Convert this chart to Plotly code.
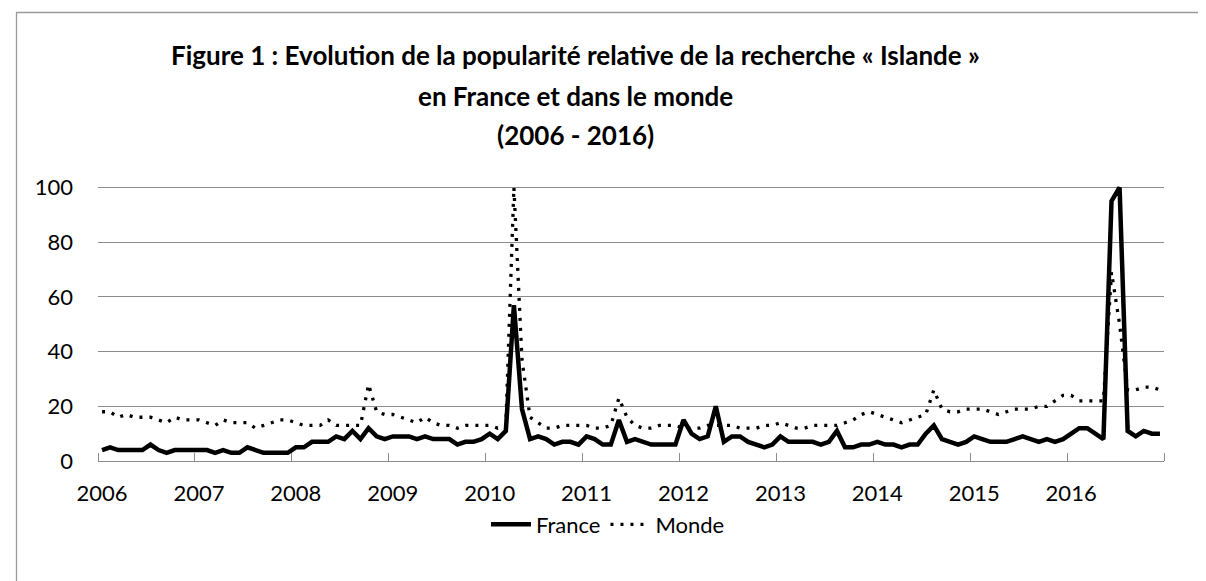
import plotly.graph_objects as go

# ---------------- data ----------------
years = list(range(2006, 2017))
months = [f"{y}-{m:02d}" for y in years for m in range(1, 13)]

france = [
    4, 5, 4, 4, 4, 4, 6, 4, 3, 4, 4, 4,        # 2006
    4, 4, 3, 4, 3, 3, 5, 4, 3, 3, 3, 3,        # 2007
    5, 5, 7, 7, 7, 9, 8, 11, 8, 12, 9, 8,      # 2008
    9, 9, 9, 8, 9, 8, 8, 8, 6, 7, 7, 8,        # 2009
    10, 8, 11, 57, 19, 8, 9, 8, 6, 7, 7, 6,    # 2010
    9, 8, 6, 6, 15, 7, 8, 7, 6, 6, 6, 6,       # 2011
    15, 10, 8, 9, 20, 7, 9, 9, 7, 6, 5, 6,     # 2012
    9, 7, 7, 7, 7, 6, 7, 11, 5, 5, 6, 6,       # 2013
    7, 6, 6, 5, 6, 6, 10, 13, 8, 7, 6, 7,      # 2014
    9, 8, 7, 7, 7, 8, 9, 8, 7, 8, 7, 8,        # 2015
    10, 12, 12, 10, 8, 95, 100, 11, 9, 11, 10, 10,  # 2016
]

monde = [
    18, 18, 16, 17, 16, 16, 16, 15, 14, 16, 15, 15,   # 2006
    15, 14, 13, 15, 14, 14, 14, 12, 13, 14, 15, 15,   # 2007
    14, 13, 13, 13, 15, 13, 13, 13, 13, 28, 18, 17,   # 2008
    17, 16, 15, 14, 16, 14, 13, 13, 12, 13, 13, 13,   # 2009
    13, 12, 13, 100, 37, 16, 14, 12, 12, 13, 13, 13,  # 2010
    13, 12, 12, 13, 23, 16, 13, 12, 12, 13, 13, 13,   # 2011
    12, 12, 12, 13, 13, 13, 13, 12, 12, 12, 13, 13,   # 2012
    14, 13, 12, 12, 13, 13, 13, 13, 14, 15, 17, 18,   # 2013
    17, 16, 15, 14, 15, 16, 17, 26, 19, 18, 18, 19,   # 2014
    19, 19, 18, 17, 18, 19, 19, 19, 20, 20, 22, 24,   # 2015
    24, 22, 22, 22, 22, 69, 50, 26, 26, 27, 27, 26,   # 2016
]

series_names = ["France", "Monde"]
title_lines = [
    "Figure 1 : Evolution de la popularité relative de la recherche « Islande »",
    "en France et dans le monde",
    "(2006 - 2016)",
]

# ---------------- layout helpers ----------------
W, H = 1206, 581
PL, PR = 90, 1156          # plot area left / right (px)
PT, PB = 173.5, 453.3      # plot area top / bottom (px)
YMAX = 102

x = list(range(len(months)))
tickvals = [i for i, m in enumerate(months) if m.endswith("-01")]
ticktext = [m[:4] for m in months if m.endswith("-01")]
boundaries = [i - 0.5 for i in tickvals] + [len(months) - 0.5]

def px_x(X):
    return (X - PL) / (PR - PL)

def px_y(Y):
    return (PB - Y) / (PB - PT)

GRID = "#8c8c8c"
FONT = "Lato"

fig = go.Figure()
fig.add_trace(go.Scatter(
    x=x, y=france, name=series_names[0], mode="lines",
    line=dict(color="black", width=4.5),
))
fig.add_trace(go.Scatter(
    x=x, y=monde, name=series_names[1], mode="lines",
    line=dict(color="black", width=3.3, dash="3px,7px"),
))

title_centers = [46, 87, 126]
annotations = [
    dict(text=t, xref="paper", yref="paper", x=px_x(567), y=px_y(cy),
         xanchor="center", yanchor="middle", showarrow=False,
         font=dict(family=FONT, size=26, weight="bold", color="black"))
    for t, cy in zip(title_lines, title_centers)
]

fig.update_layout(
    width=W, height=H,
    margin=dict(l=PL, r=W - PR, t=PT, b=H - PB, pad=0),
    paper_bgcolor="white", plot_bgcolor="white",
    font=dict(family=FONT, color="black", size=22),
    annotations=annotations,
    showlegend=True,
    legend=dict(
        orientation="h", x=px_x(600), xanchor="center",
        y=px_y(517), yanchor="middle",
        font=dict(size=22, family=FONT), bgcolor="rgba(0,0,0,0)",
        itemwidth=40,
    ),
    xaxis=dict(
        range=[-0.5, len(months) - 0.5],
        showgrid=False, zeroline=False,
        showline=True, linecolor=GRID, linewidth=1.3,
        tickmode="array", tickvals=tickvals, ticktext=ticktext,
        ticks="", ticklabelstandoff=12,
        tickfont=dict(size=22, family=FONT, color="black"),
        minor=dict(tickmode="array", tickvals=boundaries, ticks="inside",
                   ticklen=8, tickcolor=GRID, tickwidth=1.3, showgrid=False),
        fixedrange=True,
    ),
    yaxis=dict(
        range=[0, YMAX],
        tickmode="array", tickvals=[0, 20, 40, 60, 80, 100],
        showgrid=True, gridcolor=GRID, gridwidth=1.3,
        zeroline=False, showline=False, ticks="",
        ticklabelstandoff=24,
        tickfont=dict(size=22, family=FONT, color="black"),
        fixedrange=True,
    ),
    shapes=[dict(
        type="rect", xref="paper", yref="paper",
        x0=px_x(8.5), x1=px_x(1197.5), y0=px_y(575.5), y1=px_y(3.5),
        line=dict(color="#9a9a9a", width=1.3), fillcolor="rgba(0,0,0,0)",
        layer="above",
    )],
)

fig.write_html("out.html")
